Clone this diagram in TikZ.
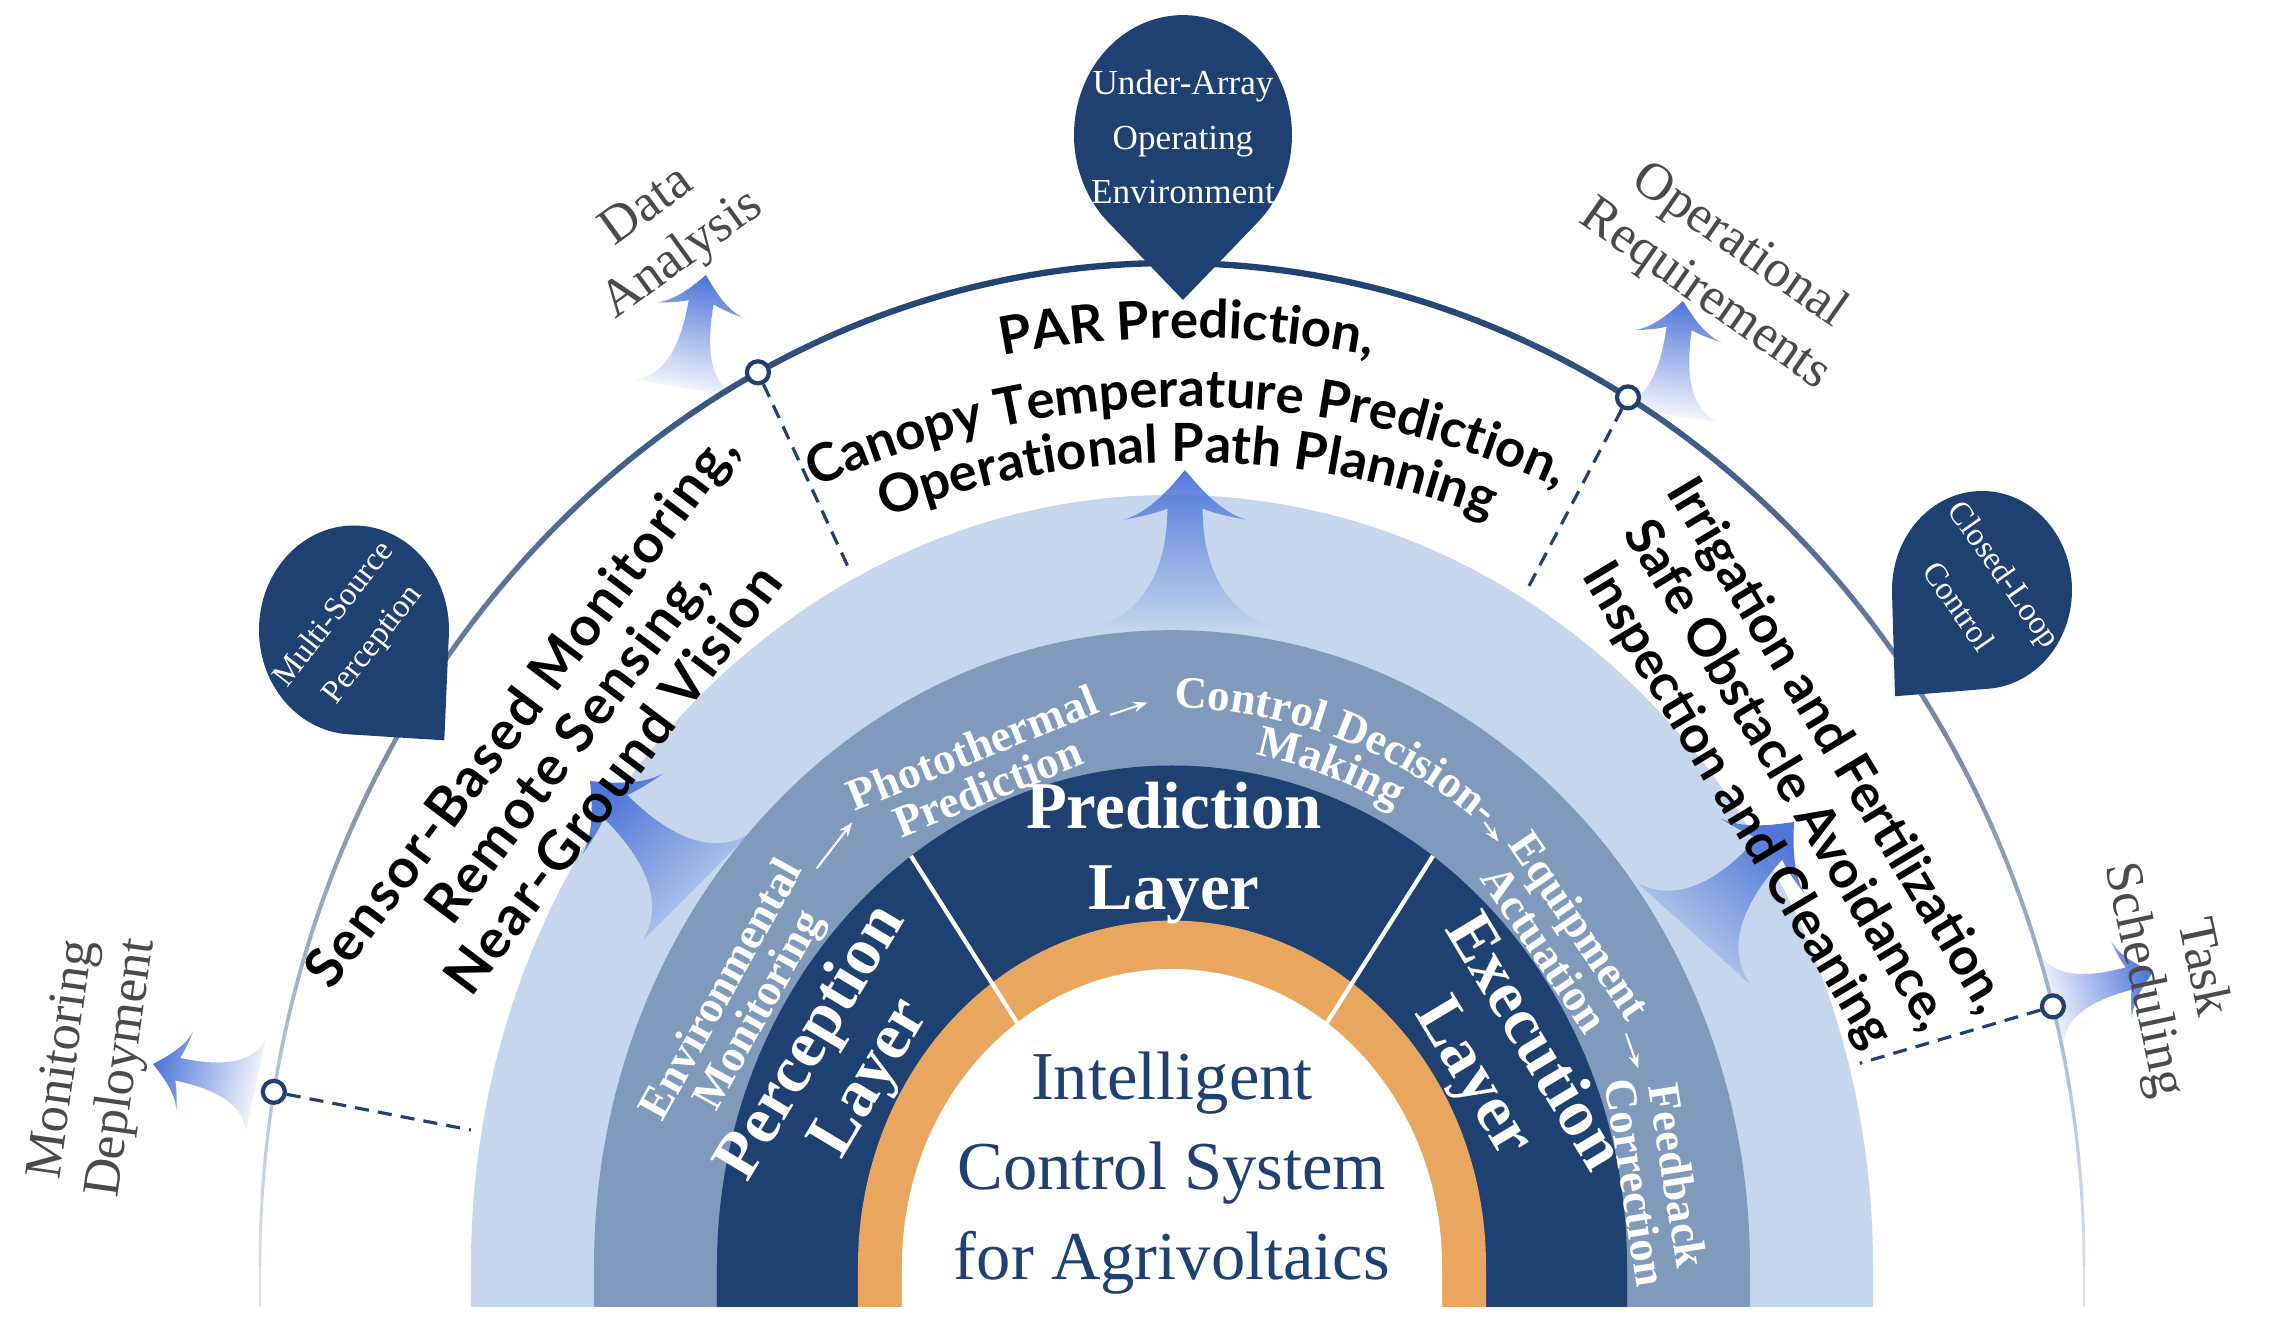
\documentclass[tikz,border=0pt]{standalone}
\usepackage{fontspec}
\setmainfont{Liberation Serif}
\newfontfamily\blockfont{Lato}
\newfontfamily\wideblockfont[LetterSpace=4]{Lato}
\usetikzlibrary{arrows.meta,calc,decorations.text,fadings}

\definecolor{navy}{HTML}{1E4171}
\definecolor{bandmid}{HTML}{7F9ABB}
\definecolor{bandlight}{HTML}{C6D6EC}
\definecolor{ringorange}{HTML}{E9A65F}
\definecolor{glowblue}{HTML}{4F76DA}
\definecolor{labelgray}{HTML}{4A4A4A}
\definecolor{arcfade}{HTML}{D9E0EA}

\tikzfading[name=glowfade, top color=transparent!0, middle color=transparent!50, bottom color=transparent!100]

\newcommand{\topfont}{\blockfont\bfseries\fontsize{15}{16}\selectfont}
\newcommand{\stepfont}{\bfseries\fontsize{12.8}{12}\selectfont}

\tikzset{
  dotnode/.style={circle, draw=navy, fill=white, line width=1.2pt, minimum size=0.22cm, inner sep=0pt},
  dashline/.style={navy, line width=0.9pt, dash pattern=on 4pt off 2.6pt},
  sidelabel/.style={labelgray, font=\fontsize{15}{17}\selectfont, align=center, inner sep=0pt},
  blocktext/.style={black, font=\blockfont\bfseries\fontsize{14.8}{16.5}\selectfont, align=center, inner sep=0pt},
  pintext/.style={white, font=\fontsize{10}{15.5}\selectfont, align=center, inner sep=0pt},
  layertext/.style={white, font=\bfseries\fontsize{19}{22.8}\selectfont, align=center, inner sep=0pt},
  steptext/.style={white, font=\stepfont, align=center, inner sep=0pt},
  flow/.style={white, line width=0.6pt, shorten <=2pt, shorten >=2pt, -{Stealth[length=4pt,width=3pt]}},
  titletext/.style={navy, font=\fontsize{19.5}{25.5}\selectfont, align=center, inner sep=0pt}
}

\newcommand{\band}[2]{\fill[#1] (-#2,-41) -- (-#2,0) arc[start angle=180, end angle=0, x radius=#2, y radius=1.1*#2] -- (#2,-41) -- cycle;}

\newcommand{\pin}[4]{%
  \pgfmathsetmacro\pinopen{acos(#2/#4)}
  \begin{scope}[shift={(#1)}, yscale=1.1]
    \fill[navy] (#3:#4) -- (#3+\pinopen:#2)
      arc[start angle=#3+\pinopen, end angle=#3+360-\pinopen, radius=#2] -- cycle;
  \end{scope}}

\newcommand{\glowarrow}[4]{%
  \begin{scope}[shift={(#1)}, rotate=#2-90, scale=#3]
    \fill[glowblue, path fading=glowfade, fading angle=#2-90]
      (0,0) .. controls (0.10,-0.12) and (0.22,-0.26) .. (0.38,-0.31)
      .. controls (0.26,-0.29) and (0.15,-0.26) .. (0.11,-0.24)
      .. controls (0.11,-0.60) and (#4*0.4,-0.92) .. (#4,-1)
      -- (-#4,-1)
      .. controls (-#4*0.4,-0.92) and (-0.11,-0.60) .. (-0.11,-0.24)
      .. controls (-0.15,-0.26) and (-0.26,-0.29) .. (-0.38,-0.31)
      .. controls (-0.22,-0.26) and (-0.10,-0.12) .. (0,0) -- cycle;
  \end{scope}}

\newcommand{\arcline}[5]{%
  \path[decorate, decoration={text along path, text align=center, text={#5}}]
    ($(#1)+(#3+#4:#2)$) arc[start angle=#3+#4, end angle=#3-#4, radius=#2];}

\begin{document}
\begin{tikzpicture}[x=0.01cm, y=0.01cm]
\useasboundingbox (-1172,-55) rectangle (1097,1266);
\fill[white] (-1172,-55) rectangle (1097,1266);

\glowarrow{-466,991}{80}{115}{0.45}
\glowarrow{511,965}{82}{115}{0.45}
\glowarrow{-1019,202}{168}{105}{0.45}
\glowarrow{981,294}{15}{105}{0.45}

\foreach \t in {0,2,...,178}{
  \pgfmathsetmacro\mix{100*sin(\t+1)}
  \pgfmathsetmacro\lw{0.8+1*sin(\t+1)}
  \draw[navy!\mix!arcfade, line width=\lw pt, line cap=round] (\t:912 and 1003) arc[start angle=\t, end angle=\t+2, x radius=912, y radius=1003];
}
\draw[arcfade, line width=0.8pt] (-912,0) -- (-912,-41) (912,0) -- (912,-41);

\band{bandlight}{701}
\band{bandmid}{578}
\band{navy}{455}
\band{ringorange}{314}
\band{white}{270}

\glowarrow{13,796}{90}{160}{0.62}
\glowarrow{-582,485}{135}{150}{0.5}
\glowarrow{622,444}{48}{150}{0.5}

\draw[white, line width=1.2pt] (125:270 and 297) -- (125:455 and 500.5);
\draw[white, line width=1.2pt] (55:270 and 297) -- (55:455 and 500.5);

\foreach \a/\n in {170/a, 117/b, 60/c, 15/d}{
  \node[dotnode] (dot\n) at (\a:912 and 1003) {};
  \coordinate (foot\n) at (\a:712 and 783);
  \draw[dashline] (dot\n) -- (foot\n);
}

\pin{11,1131}{109}{-90}{150}
\pin{-818,636}{95}{-48}{135}
\pin{810,676}{90}{228}{130}
\node[pintext] (pinarray) at (11,1129) {Under-Array\\Operating\\Environment};
\node[pintext, rotate=52, font=\fontsize{9.3}{14}\selectfont] (pinsource) at (-818,636) {Multi-Source\\Perception};
\node[pintext, rotate=-55, font=\fontsize{9.3}{16}\selectfont] (pinloop) at (810,676) {Closed-Loop\\Control};

\node[sidelabel, rotate=36] (datalab) at (-506,1034) {Data\\Analysis};
\node[sidelabel, rotate=-35] (operlab) at (550,995) {Operational\\Requirements};
\node[sidelabel, rotate=82] (monlab) at (-1078,202) {Monitoring\\Deployment};
\node[sidelabel, rotate=-78] (tasklab) at (1000,292) {Task\\Scheduling};

\node[blocktext, rotate=53, font=\wideblockfont\bfseries\fontsize{15.5}{16.5}\selectfont] (sensing) at (-606,522) {Sensor-Based Monitoring,\\Remote Sensing,\\Near-Ground Vision};
\node[blocktext, rotate=-59] (irrigation) at (614,490) {Irrigation and Fertilization,\\Safe Obstacle Avoidance,\\Inspection and Cleaning};
\arcline{15,-34}{962}{90}{35}{|\topfont|PAR Prediction,}
\arcline{15,-34}{893}{90}{35}{|\topfont|Canopy Temperature Prediction,}
\arcline{15,-34}{838}{90}{35}{|\topfont|Operational Path Planning}

\node[layertext, rotate=59, font=\bfseries\fontsize{19}{19.5}\selectfont] (percep) at (-330,205) {Perception\\Layer};
\node[layertext] (predict) at (2,413) {Prediction\\Layer};
\node[layertext, rotate=-59, font=\bfseries\fontsize{19}{19.5}\selectfont] (exec) at (330,205) {Execution\\Layer};

\node[steptext, rotate=61] (env) at (-430,265) {Environmental\\Monitoring};
\node[steptext, rotate=22] (photo) at (-192,499) {Photothermal\\Prediction};
\path[decorate, decoration={text along path, text align=center, text={|\stepfont\color{white}|Control Decision-}}]
  (96:507 and 558) arc[start angle=96, end angle=46, x radius=507, y radius=558];
\path[decorate, decoration={text along path, text align=center, text={|\stepfont\color{white}|Making}}]
  (91:472 and 519) arc[start angle=91, end angle=51, x radius=472, y radius=519];
\coordinate (ctrlstart) at (92:515 and 566);
\coordinate (ctrlend) at (53:512 and 563);
\node[steptext, rotate=-56] (equip) at (391,329) {Equipment\\Actuation};
\node[steptext, rotate=-81] (feed) at (485,87) {Feedback\\Correction};
\draw[flow] (env.east) -- (photo.west);
\draw[flow] (photo.east) -- (ctrlstart);
\draw[flow] (ctrlend) -- (equip.west);
\draw[flow] (equip.east) -- (feed.west);

\node[titletext] (title) at (0,93) {Intelligent\\Control System\\for Agrivoltaics};
\end{tikzpicture}
\end{document}
